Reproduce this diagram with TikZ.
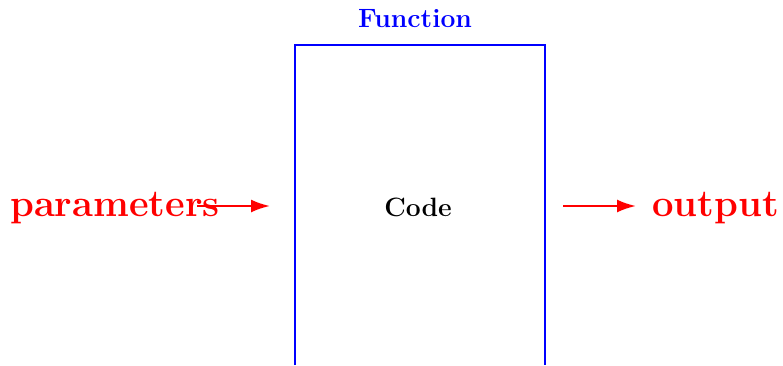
\documentclass[tikz,border=0pt]{standalone}
\usetikzlibrary{arrows.meta}
\definecolor{fnblue}{RGB}{0,0,255}
\definecolor{iored}{RGB}{255,0,0}
\begin{document}
\begin{tikzpicture}[x=1pt,y=1pt,
  boxline/.style={draw=fnblue,line width=2.3pt},
  flow/.style={draw=iored,line width=2.3pt,-{Latex[length=19pt,width=13pt]}},
  iolabel/.style={text=iored,inner sep=0pt,font=\fontsize{38.2}{45}\selectfont\bfseries},
  boxlabel/.style={inner sep=0pt,font=\fontsize{26.5}{31}\selectfont\bfseries}]
\useasboundingbox (0,0) rectangle (783,365);
% open-bottomed function box
\coordinate (bl) at (295,0);
\coordinate (tl) at (295,320);
\coordinate (tr) at (545,320);
\coordinate (br) at (545,0);
\draw[boxline] (bl) -- (tl) -- (tr) -- (br);
\node[boxlabel,text=fnblue,anchor=base] (func) at (415,337) {Function};
\node[boxlabel,anchor=base] (code) at (418,149) {Code};
% inputs and outputs
\node[iolabel,anchor=base west] (params) at (10,149) {parameters};
\node[iolabel,anchor=base west] (out) at (652,149) {output};
\coordinate (inS) at (197,159);
\coordinate (inE) at (270,159);
\coordinate (outS) at (563,159);
\coordinate (outE) at (636,159);
\draw[flow] (inS) -- (inE);
\draw[flow] (outS) -- (outE);
\end{tikzpicture}
\end{document}
